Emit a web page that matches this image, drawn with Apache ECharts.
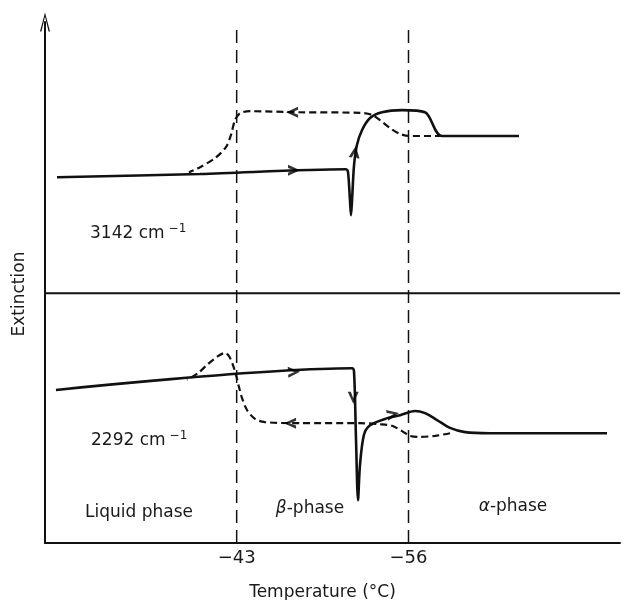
<!DOCTYPE html>
<html>
<head>
<meta charset="utf-8">
<script src="https://cdn.jsdelivr.net/npm/echarts@6/dist/echarts.min.js"></script>
<style>
html,body{margin:0;padding:0;background:#fff;}
#chart{width:624px;height:600px;}
</style>
</head>
<body>
<div id="chart"></div>
<script>
// ---- data (temperature in °C, extinction in arbitrary units) ----
const transitionTemps = [-43, -56];
const tickLabels = ['\u221243', '\u221256'];
const dividerLevel = 47.3;
const dashedTop = 97.2;

// 3142 cm-1 band: heating (solid) and cooling (dashed)
const upperHeating = [
  [-29.41, 69.3], [-40.23, 69.9], [-51.27, 70.8], [-51.42, 70.3], [-51.57, 65.0],
  [-51.65, 62.1], [-51.73, 65.0], [-51.88, 71.6], [-52.10, 75.4], [-52.48, 78.2],
  [-53.09, 80.5], [-54.00, 81.6], [-55.51, 82.0], [-57.25, 81.6], [-58.53, 77.1],
  [-64.36, 77.1]
];
const upperCooling = [
  [-58.53, 77.1], [-56.11, 77.1], [-55.36, 77.5], [-54.60, 78.6], [-53.84, 80.1],
  [-53.24, 81.1], [-52.33, 81.5], [-47.79, 81.6], [-44.01, 81.8], [-43.25, 81.4],
  [-42.87, 80.1], [-42.57, 77.3], [-42.19, 75.0], [-41.36, 72.9], [-40.23, 71.2],
  [-39.39, 70.2]
];

// 2292 cm-1 band: heating (solid) and cooling (dashed)
const lowerHeating = [
  [-29.33, 29.0], [-51.73, 33.1], [-51.88, 32.4], [-52.03, 19.5], [-52.18, 8.1],
  [-52.33, 14.8], [-52.63, 20.5], [-53.09, 22.3], [-54.22, 23.5], [-55.36, 24.2],
  [-56.49, 25.0], [-57.25, 24.6], [-58.16, 23.3], [-59.14, 21.8], [-60.28, 21.0],
  [-62.17, 20.8], [-71.02, 20.8]
];
const lowerCooling = [
  [-59.14, 20.8], [-58.01, 20.3], [-56.87, 20.1], [-56.11, 20.3], [-55.51, 21.2],
  [-54.75, 22.2], [-53.84, 22.5], [-52.33, 22.7], [-47.79, 22.7], [-45.14, 22.9],
  [-44.39, 23.5], [-43.78, 25.2], [-43.40, 27.5], [-43.18, 29.5], [-42.95, 31.8],
  [-42.72, 33.7], [-42.42, 35.4], [-42.12, 36.0], [-41.59, 35.4], [-40.83, 33.9],
  [-40.08, 32.2], [-39.24, 30.9]
];

// direction arrows: [temperature, extinction, rotation (deg)]
const arrowMarks = [
  [-47.34, 70.6, 0],
  [-51.95, 74.1, 82],
  [-47.19, 81.6, 180],
  [-47.34, 32.4, 3],
  [-51.82, 27.5, -90],
  [-54.83, 24.4, 12],
  [-47.04, 22.7, 180]
];

const ink = '#111';
const textColor = '#1a1a1a';
const fontFamily = 'DejaVu Sans';

const chart = echarts.init(document.getElementById('chart'), null, {renderer: 'canvas'});

function curve(name, data, dashed) {
  return {
    name: name, type: 'line', data: data, showSymbol: false, symbol: 'none',
    smooth: 0.3, silent: true, z: 3,
    lineStyle: {color: ink, width: dashed ? 2.2 : 2.6, type: dashed ? [7, 4] : 'solid'}
  };
}

const series = [
  curve('3142 heating', upperHeating, false),
  curve('3142 cooling', upperCooling, true),
  curve('2292 heating', lowerHeating, false),
  curve('2292 cooling', lowerCooling, true),
  {
    name: 'divider', type: 'line', symbol: 'none', silent: true, z: 2,
    data: [[-28.5, dividerLevel], [-72, dividerLevel]],
    lineStyle: {color: ink, width: 2}
  },
  {
    name: 'arrows', type: 'scatter', silent: true, z: 5,
    symbol: 'path://M0,0 L10,5 L0,10 L0,7.2 L5.4,5 L0,2.8 Z',
    symbolSize: [12, 11],
    itemStyle: {color: '#000'},
    data: arrowMarks.map(a => ({value: [a[0], a[1]], symbolRotate: a[2]}))
  }
];
transitionTemps.forEach(t => {
  series.push({
    name: 'transition ' + t, type: 'line', symbol: 'none', silent: true, z: 1,
    data: [[t, 0], [t, dashedTop]],
    lineStyle: {color: ink, width: 1.5, type: [13, 7]}
  });
});

chart.setOption({
  animation: false,
  backgroundColor: '#fff',
  grid: {left: 45, right: 4, top: 22, bottom: 57, outerBoundsMode: 'none', containLabel: false},
  xAxis: {
    type: 'value', min: -72, max: -28.5, inverse: true,
    name: 'Temperature (\u00b0C)', nameLocation: 'middle', nameGap: 41,
    nameTextStyle: {fontFamily: fontFamily, fontSize: 17, color: textColor, padding: [0, 20, 0, 0]},
    axisLine: {lineStyle: {color: ink, width: 2}},
    axisTick: {show: false},
    splitLine: {show: false},
    axisLabel: {
      customValues: transitionTemps,
      formatter: v => tickLabels[transitionTemps.indexOf(v)] || '',
      fontFamily: fontFamily, fontSize: 18, color: textColor, margin: 6
    }
  },
  yAxis: {
    type: 'value', min: 0, max: 98.7,
    axisLine: {
      show: true, onZero: false,
      lineStyle: {color: ink, width: 2},
      symbol: ['none', 'path://M5,0 L10,19 L8.6,19 L5,4 L1.4,19 L0,19 Z'],
      symbolSize: [10, 19]
    },
    axisTick: {show: false},
    axisLabel: {show: false},
    splitLine: {show: false}
  },
  graphic: [
    {type: 'text', x: 20, y: 294, rotation: Math.PI / 2,
     style: {text: 'Extinction', fontFamily: fontFamily, fontSize: 17, fill: textColor, align: 'center', verticalAlign: 'middle'}},
    {type: 'text', x: 90, y: 234,
     style: {text: '{a|3142 cm}{s|\u22121}', verticalAlign: 'middle', fill: textColor,
       rich: {a: {fontFamily: fontFamily, fontSize: 17, fill: textColor},
              s: {fontFamily: fontFamily, fontSize: 12, fill: textColor, padding: [0, 0, 11, 4]}}}},
    {type: 'text', x: 91, y: 441,
     style: {text: '{a|2292 cm}{s|\u22121}', verticalAlign: 'middle', fill: textColor,
       rich: {a: {fontFamily: fontFamily, fontSize: 17, fill: textColor},
              s: {fontFamily: fontFamily, fontSize: 12, fill: textColor, padding: [0, 0, 11, 4]}}}},
    {type: 'text', x: 139, y: 513,
     style: {text: 'Liquid phase', fontFamily: fontFamily, fontSize: 17, fill: textColor, align: 'center', verticalAlign: 'middle'}},
    {type: 'text', x: 310, y: 509,
     style: {text: '{g|\u03b2}{a|-phase}', align: 'center', verticalAlign: 'middle',
       rich: {g: {fontFamily: fontFamily, fontStyle: 'italic', fontSize: 17, fill: textColor},
              a: {fontFamily: fontFamily, fontSize: 17, fill: textColor}}}},
    {type: 'text', x: 513, y: 507,
     style: {text: '{g|\u03b1}{a|-phase}', align: 'center', verticalAlign: 'middle',
       rich: {g: {fontFamily: fontFamily, fontStyle: 'italic', fontSize: 17, fill: textColor},
              a: {fontFamily: fontFamily, fontSize: 17, fill: textColor}}}}
  ],
  series: series
});
</script>
</body>
</html>
